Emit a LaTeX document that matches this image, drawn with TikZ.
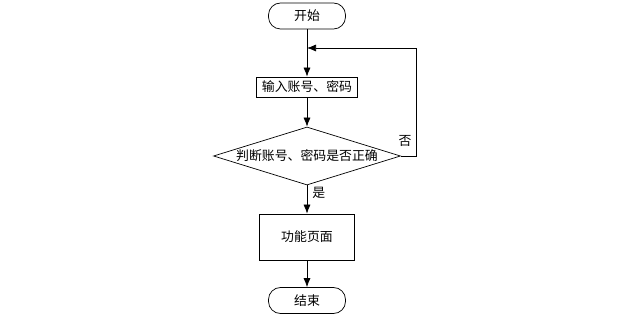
\documentclass[tikz,border=0pt]{standalone}
\usepackage{fontspec}
\setmainfont{Noto Sans CJK SC}
\usepackage{tikz}
\usetikzlibrary{shapes.geometric,arrows.meta}
\definecolor{flowline}{HTML}{000000}

\begin{document}
\begin{tikzpicture}[x=0.03cm,y=-0.03cm,
    every node/.style={font=\fontsize{11}{13}\selectfont},
    terminal/.style={draw=flowline,line width=0.6pt,rounded corners=0.36cm,minimum width=2.31cm,minimum height=0.78cm,inner sep=0pt},
    procbox/.style={draw=flowline,line width=0.6pt,inner sep=0pt},
    decide/.style={draw=flowline,line width=0.6pt,diamond,aspect=3.2,inner sep=0pt,minimum width=5.61cm,minimum height=1.74cm},
    flow/.style={draw=flowline,line width=0.6pt,-{Latex[length=2.7mm,width=2.1mm]}}]
  \useasboundingbox (0,0) rectangle (622,319);
  \node[terminal] (start) at (307,16) {开始};
  \node[procbox,minimum width=3.03cm,minimum height=0.6cm] (input) at (307,87) {输入账号、密码};
  \node[decide] (check) at (307,156) {判断账号、密码是否正确};
  \node[procbox,minimum width=2.85cm,minimum height=1.38cm] (main) at (307,237) {功能页面};
  \node[terminal] (stop) at (307,300.5) {结束};
  \coordinate (back) at (307,48);
  \draw[line width=0.6pt] (start) -- (back);
  \draw[flow] (back) -- (input);
  \draw[flow] (input) -- (check);
  \draw[flow] (check) -- node[right=1pt,pos=0.25] (yes) {是} (main);
  \draw[flow] (main) -- (stop);
  \draw[flow] (check.east) -- ++(15,0) |- node[left=0pt,pos=0.07] (no) {否} (back);
\end{tikzpicture}
\end{document}
